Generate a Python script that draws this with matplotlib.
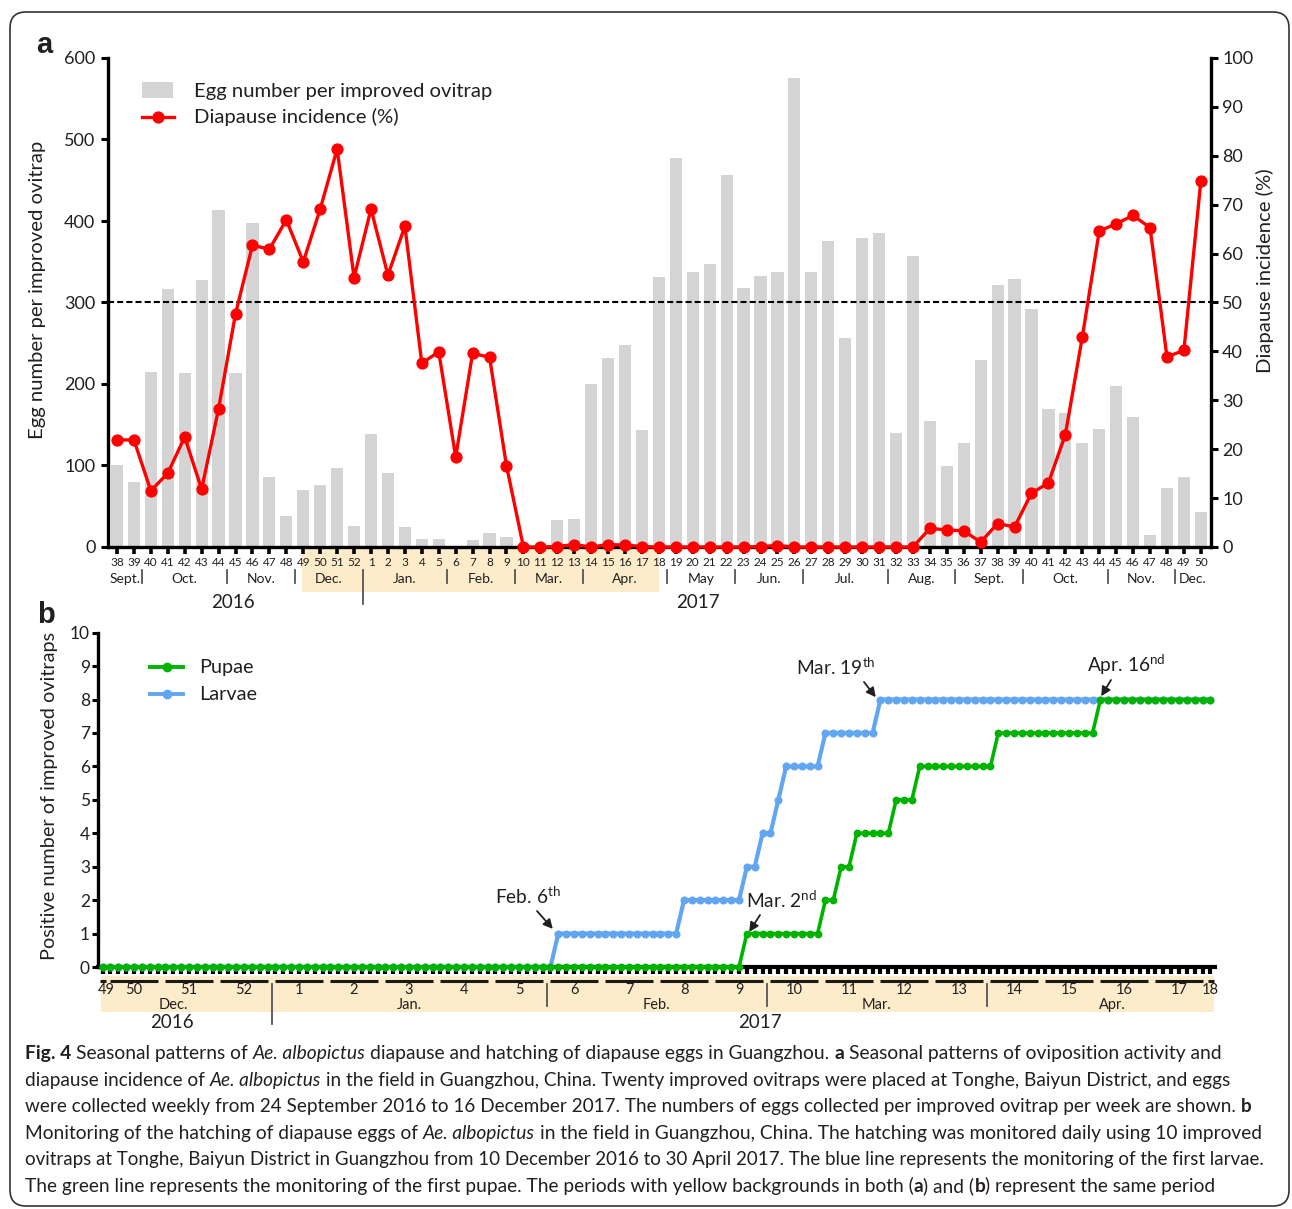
import numpy as np
import pandas as pd
import matplotlib
matplotlib.use('Agg')
import matplotlib.pyplot as plt
from matplotlib import transforms
from matplotlib.patches import Rectangle, FancyBboxPatch
from matplotlib.lines import Line2D

# ---------------- data: panel a (weekly collections) ----------------
sample_start, sample_end = '2016-09-24', '2017-12-16'
egg_number = [101, 80, 215, 317, 213, 328, 414, 214, 398, 86, 38, 70, 76, 97, 26,
              139, 91, 24, 10, 10, 0, 9, 17, 12, 3, 0, 33, 34, 200, 232,
              248, 143, 331, 477, 337, 347, 456, 318, 332, 337, 576, 338, 375, 256, 379,
              385, 140, 357, 154, 99, 128, 230, 322, 329, 292, 169, 164, 128, 145, 197,
              159, 15, 72, 86, 43]
diapause_pct = [21.9, 21.9, 11.5, 15.1, 22.5, 11.8, 28.3, 47.7, 61.7, 60.9, 66.9, 58.3, 69.1, 81.4, 55.1,
                69.1, 55.6, 65.6, 37.6, 39.9, 18.4, 39.6, 38.8, 16.6, 0, 0, 0.1, 0.5, 0, 0.5,
                0.4, 0.1, 0, 0, 0, 0, 0, 0, 0.1, 0.3, 0, 0, 0, 0, 0,
                0, 0, 0, 3.8, 3.5, 3.3, 1.0, 4.8, 4.1, 11.0, 13.1, 23.0, 42.9, 64.6, 66.1,
                67.8, 65.3, 38.9, 40.2, 74.8]
diapause_threshold = 50

# ---------------- data: panel b (daily monitoring) ----------------
daily_start, daily_end = '2016-12-10', '2017-04-30'
larvae = [0]*58 + [1]*16 + [2]*8 + [3]*2 + [4]*2 + [5]*1 + [6]*5 + [7]*7 + [8]*43
pupae = [0]*82 + [1]*10 + [2]*2 + [3]*2 + [4]*5 + [5]*3 + [6]*10 + [7]*13 + [8]*15

MONTHS = {1: 'Jan.', 2: 'Feb.', 3: 'Mar.', 4: 'Apr.', 5: 'May', 6: 'Jun.', 7: 'Jul.',
          8: 'Aug.', 9: 'Sept.', 10: 'Oct.', 11: 'Nov.', 12: 'Dec.'}

caption_lines = [
    [('Fig. 4', 'b'), (' Seasonal patterns of ', 'n'), ('Ae. albopictus', 'i'),
     (' diapause and hatching of diapause eggs in Guangzhou. ', 'n'), ('a', 'b'),
     (' Seasonal patterns of oviposition activity and', 'n')],
    [('diapause incidence of ', 'n'), ('Ae. albopictus', 'i'),
     (' in the field in Guangzhou, China. Twenty improved ovitraps were placed at Tonghe, Baiyun District, and eggs', 'n')],
    [('were collected weekly from 24 September 2016 to 16 December 2017. The numbers of eggs collected per improved ovitrap per week are shown. ', 'n'),
     ('b', 'b')],
    [('Monitoring of the hatching of diapause eggs of ', 'n'), ('Ae. albopictus', 'i'),
     (' in the field in Guangzhou, China. The hatching was monitored daily using 10 improved', 'n')],
    [('ovitraps at Tonghe, Baiyun District in Guangzhou from 10 December 2016 to 30 April 2017. The blue line represents the monitoring of the first larvae.', 'n')],
    [('The green line represents the monitoring of the first pupae. The periods with yellow backgrounds in both (', 'n'),
     ('a', 'b'), (') and (', 'n'), ('b', 'b'), (') represent the same period', 'n')],
]

# ---------------- style ----------------
W, H = 1292, 1209
FONT = 'Lato'
plt.rcParams['font.family'] = [FONT, 'DejaVu Sans']
plt.rcParams['mathtext.fontset'] = 'custom'
plt.rcParams['mathtext.rm'] = FONT
TXT = '#231f20'
BAR = '#d4d4d4'
RED = '#ff0000'
BLUE = '#62a6f2'
GREEN = '#00b300'
YELLOW = '#fdecca'
SEP = '#555555'

fig = plt.figure(figsize=(W / 100, H / 100), dpi=100)
PX = transforms.Affine2D().scale(1 / W, -1 / H).translate(0, 1) + fig.transFigure


def ptext(x, y, s, transform=PX, **kw):
    kw.setdefault('color', TXT)
    return fig.text(x, y, s, transform=transform, **kw)


def week_start(ts):
    return ts - pd.Timedelta(days=(ts.weekday() + 1) % 7)


def runs(keys):
    out, s = [], 0
    for i in range(1, len(keys) + 1):
        if i == len(keys) or keys[i] != keys[s]:
            out.append((s, i - 1, keys[s]))
            s = i
    return out


def month_axis(dates, blend, y_lab, y_top, y_bot, y_bot_year, size, shift=None):
    keys = [(week_start(d).year, week_start(d).month) for d in dates]
    mr = runs(keys)
    shift = shift or {}
    for j, (i0, i1, (yr, mo)) in enumerate(mr):
        xc = (i0 + i1) / 2 + shift.get(mo, 0)
        ptext(xc, y_lab, MONTHS[mo], transform=blend, ha='center', va='center', fontsize=size)
        if j < len(mr) - 1:
            yb = y_bot_year if mr[j + 1][2][0] != yr else y_bot
            fig.add_artist(Line2D([i1 + 0.5] * 2, [y_top, yb], transform=blend, color=SEP, lw=1.3))


# ================= panel a =================
dates_a = pd.date_range(sample_start, sample_end, freq='7D')
week_a = [int(d.strftime('%U')) for d in dates_a]
xa = np.arange(len(dates_a))

ax1 = fig.add_axes([108 / W, 1 - 547 / H, (1211 - 108) / W, (547 - 58) / H])
ax1.bar(xa, egg_number, width=0.72, color=BAR, zorder=1)
ax1.set_xlim(-0.53, 64.6)
ax1.set_ylim(0, 600)
ax1.set_yticks(range(0, 601, 100))
ax1.set_xticks(xa)
ax1.set_xticklabels(week_a, fontsize=8.5, color=TXT)
ax1.tick_params(axis='y', direction='out', length=5, width=2.2, labelsize=13, pad=4, labelcolor=TXT)
ax1.tick_params(axis='x', direction='out', length=5, width=2.6, pad=2)
for s in ['top', 'right']:
    ax1.spines[s].set_visible(False)
for s in ['left', 'bottom']:
    ax1.spines[s].set_linewidth(2.4)

ax2 = ax1.twinx()
ax2.set_ylim(0, 100)
ax2.set_yticks(range(0, 101, 10))
ax2.tick_params(axis='y', direction='out', length=5, width=2.2, labelsize=13, pad=3, labelcolor=TXT)
for s in ['top', 'left', 'bottom']:
    ax2.spines[s].set_visible(False)
ax2.spines['right'].set_linewidth(2.4)
ax2.axhline(diapause_threshold, color='black', lw=1.5, ls=(0, (2.9, 1.5)), zorder=2)
ax2.plot(xa, diapause_pct, color=RED, lw=2.4, marker='o', ms=7.8, clip_on=False, zorder=5)

blend_a = transforms.blended_transform_factory(ax1.transData, PX)
fig.add_artist(Rectangle((10.95, 548), 32.0 - 10.95, 43.5, transform=blend_a,
                         fc=YELLOW, ec='none', zorder=-5))
month_axis(dates_a, blend_a, 579, 570, 583, 604, 10)
ptext(6.86, 602, '2016', transform=blend_a, ha='center', va='center', fontsize=13.5)
ptext(34.3, 602, '2017', transform=blend_a, ha='center', va='center', fontsize=13.5)

ptext(38, 290, 'Egg number per improved ovitrap', rotation=90, ha='center', va='center', fontsize=14.6)
ptext(1265, 271, 'Diapause incidence (%)', rotation=90, ha='center', va='center', fontsize=14.6)
ptext(44, 45, 'a', ha='center', va='center', fontsize=21, fontweight='bold', family='Liberation Sans')

# legend a (manual)
fig.add_artist(Rectangle((142, 82), 31, 15.5, transform=PX, fc=BAR, ec='none'))
fig.add_artist(Line2D([142, 174], [117, 117], transform=PX, color=RED, lw=2.4))
fig.add_artist(Line2D([158], [117], transform=PX, color=RED, marker='o', ms=7.8))
ptext(194, 91, 'Egg number per improved ovitrap', ha='left', va='center', fontsize=14.6)
ptext(194, 117, 'Diapause incidence (%)', ha='left', va='center', fontsize=14.6)

# ================= panel b =================
dates_b = pd.date_range(daily_start, daily_end, freq='D')
xb = np.arange(len(dates_b))

ax3 = fig.add_axes([98 / W, 1 - 967 / H, (1215 - 98) / W, (967 - 632.7) / H])
ax3.plot(xb, larvae, color=BLUE, lw=3.0, marker='o', ms=4.8, clip_on=False, zorder=3)
ax3.plot(xb, pupae, color=GREEN, lw=2.6, marker='o', ms=4.6, clip_on=False, zorder=4)
ax3.set_xlim(-0.585, 141.58)
ax3.set_ylim(0, 10)
ax3.set_yticks(range(0, 11))
ax3.set_xticks(xb)
ax3.set_xticklabels([])
ax3.tick_params(axis='y', direction='out', length=4.3, width=2.2, labelsize=12.5, pad=1.5, labelcolor=TXT)
ax3.tick_params(axis='x', direction='out', length=5, width=3.0)
for s in ['top', 'right']:
    ax3.spines[s].set_visible(False)
ax3.spines['left'].set_linewidth(2.4)
ax3.spines['bottom'].set_linewidth(3.0)

blend_b = transforms.blended_transform_factory(ax3.transData, PX)
fig.add_artist(Rectangle((-0.2, 976), 141.7, 36, transform=blend_b, fc=YELLOW, ec='none', zorder=-5))
wk_b = [int(d.strftime('%U')) for d in dates_b]
for i0, i1, wk in runs(wk_b):
    a, b = (i0 - 0.3, i1 + 0.4) if i0 == i1 else (i0, i1)
    fig.add_artist(Line2D([a, b], [980.5, 980.5], transform=blend_b, color='#1a1a1a', lw=2.2,
                          solid_capstyle='butt'))
    xc = (i0 + i1) / 2 + (0.5 if i0 == 0 else 0)
    ptext(xc, 990, str(wk), transform=blend_b, ha='center', va='center', fontsize=10.5)
month_axis(dates_b, blend_b, 1005, 984, 1006, 1024, 10.5, shift={12: -1.5, 4: 1.5})
ptext(8.85, 1022, '2016', transform=blend_b, ha='center', va='center', fontsize=13.5)
ptext(83.7, 1022, '2017', transform=blend_b, ha='center', va='center', fontsize=13.5)

ptext(50, 796, 'Positive number of improved ovitraps', rotation=90, ha='center', va='center', fontsize=14.3)
ptext(46, 615, 'b', ha='center', va='center', fontsize=21, fontweight='bold', family='Liberation Sans')

# legend b (manual)
for yy, col, lab in [(667, GREEN, 'Pupae'), (694, BLUE, 'Larvae')]:
    fig.add_artist(Line2D([150, 183], [yy, yy], transform=PX, color=col, lw=2.8))
    fig.add_artist(Line2D([166.5], [yy], transform=PX, color=col, marker='o', ms=6))
    ptext(199, yy, lab, ha='left', va='center', fontsize=14.3)

# annotations
notes = [('Feb. 6$^{\\rm th}$', (528, 896), (537, 911), (57.3, 1.14)),
         ('Mar. 2$^{\\rm nd}$', (782, 900), (760, 915), (82.3, 1.05)),
         ('Mar. 19$^{\\rm th}$', (836, 667), (864, 682), (98.4, 8.07)),
         ('Apr. 16$^{\\rm nd}$', (1126, 665), (1111, 680), (127.1, 8.1))]
for s, tpos, tail, tip in notes:
    ptext(tpos[0], tpos[1], s, ha='center', va='center', fontsize=13.8)
    ax3.annotate('', xy=tip, xycoords='data', xytext=tail, textcoords=PX,
                 arrowprops=dict(arrowstyle='-|>,head_length=0.55,head_width=0.28', color=TXT,
                                 lw=1.3, shrinkA=0, shrinkB=0), annotation_clip=False)

# ================= caption =================
renderer = fig.canvas.get_renderer()
STY = {'n': dict(), 'b': dict(fontweight='bold'), 'i': dict(fontstyle='italic')}


def seg_width(s, size, st):
    t = fig.text(0, 0, s, fontsize=size, **STY[st])
    w = t.get_window_extent(renderer=renderer).width
    t.remove()
    return w


def space_w(size, st):
    return seg_width('x x', size, st) - seg_width('xx', size, st)


def line_width(line, size):
    tot = 0
    for s, st in line:
        core = s.strip(' ')
        nsp = len(s) - len(core)
        tot += seg_width(core, size, st) + nsp * space_w(size, st)
    return tot


x0 = 25
targets = [1217, 1229, 1246, 1260, 1257, 1214]
base = 12.0
baselines = [1059, 1086, 1112, 1139, 1165, 1192]
for line, yb, tgt in zip(caption_lines, baselines, targets):
    csize = base * (tgt - x0) / line_width(line, base)
    x = x0
    for s, st in line:
        lead = len(s) - len(s.lstrip(' '))
        trail = len(s) - len(s.rstrip(' '))
        core = s.strip(' ')
        sw = space_w(csize, st)
        x += lead * sw
        t = ptext(x, yb, core, ha='left', va='baseline', fontsize=csize, **STY[st])
        x += t.get_window_extent(renderer=renderer).width + trail * sw

# border
fig.add_artist(FancyBboxPatch((10, 12), 1279, 1194, boxstyle='round,pad=0,rounding_size=16',
                              transform=PX, fill=False, ec='#333333', lw=1.2))

fig.savefig('out.png', dpi=100)
